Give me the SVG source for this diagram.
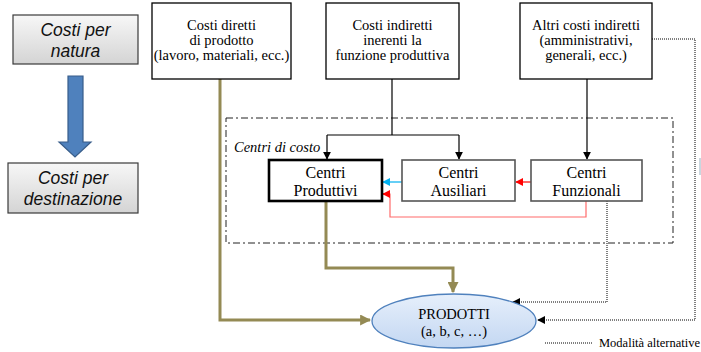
<svg xmlns="http://www.w3.org/2000/svg" width="701" height="352" viewBox="0 0 701 352">
  <defs>
    <linearGradient id="greyFill" x1="0" y1="0" x2="0" y2="1">
      <stop offset="0" stop-color="#f7f7f7"/>
      <stop offset="1" stop-color="#d4d4d4"/>
    </linearGradient>
    <linearGradient id="ovalFill" x1="0" y1="0" x2="0" y2="1">
      <stop offset="0" stop-color="#e6effb"/>
      <stop offset="1" stop-color="#c3d7f2"/>
    </linearGradient>
    <marker id="arrBlack" viewBox="0 0 10 10" refX="9" refY="5" markerWidth="8" markerHeight="8" markerUnits="userSpaceOnUse" orient="auto">
      <path d="M0,0 L10,5 L0,10 z" fill="#000"/>
    </marker>
    <marker id="arrRed" viewBox="0 0 10 10" refX="9" refY="5" markerWidth="8" markerHeight="8" markerUnits="userSpaceOnUse" orient="auto">
      <path d="M0,0 L10,5 L0,10 z" fill="#ff0000"/>
    </marker>
    <marker id="arrBlue" viewBox="0 0 10 10" refX="9" refY="5" markerWidth="8" markerHeight="8" markerUnits="userSpaceOnUse" orient="auto">
      <path d="M0,0 L10,5 L0,10 z" fill="#00b0f0"/>
    </marker>
    <marker id="arrOlive" viewBox="0 0 10 10" refX="9" refY="5" markerWidth="11" markerHeight="11" markerUnits="userSpaceOnUse" orient="auto">
      <path d="M0,0 L10,5 L0,10 z" fill="#948a54"/>
    </marker>
  </defs>
  <style>
    .serif { font-family: "Liberation Serif", "Times New Roman", serif; fill: #000; }
    .sans { font-family: "Liberation Sans", Arial, sans-serif; font-style: italic; fill: #111; }
    .box { fill: #fff; stroke: #000; stroke-width: 1.3; }
    .greybox { fill: url(#greyFill); stroke: #3a3a3a; stroke-width: 1.2; }
    .thin { fill: none; stroke: #000; stroke-width: 1.2; }
    .olive { fill: none; stroke: #948a54; stroke-width: 3; }
    .dotted { fill: none; stroke: #000; stroke-width: 1; stroke-dasharray: 1 1; }
    .src { font-size: 14.5px; text-anchor: middle; }
    .ctr { font-size: 16px; text-anchor: middle; }
  </style>

  <!-- left-hand legend: from nature to destination -->
  <g id="natura">
    <rect class="greybox" x="13" y="15" width="125" height="49"/>
    <text class="sans" font-size="17.5" text-anchor="middle" x="75.5" y="36">Costi per</text>
    <text class="sans" font-size="17.5" text-anchor="middle" x="75.5" y="57">natura</text>
  </g>
  <g id="freccia">
    <path d="M68,76 L83,76 L83,142 L91,142 L75,157 L59,142 L68,142 z" fill="#4f81bd" stroke="#385d8a" stroke-width="1.2"/>
  </g>
  <g id="destinazione">
    <rect class="greybox" x="8" y="163" width="130" height="50"/>
    <text class="sans" font-size="17.5" text-anchor="middle" x="73" y="184">Costi per</text>
    <text class="sans" font-size="17.5" text-anchor="middle" x="73" y="205">destinazione</text>
  </g>

  <!-- cost-centre frame -->
  <g id="centri-di-costo">
    <rect x="226" y="118" width="447" height="125" fill="none" stroke="#222" stroke-width="1" stroke-dasharray="7 3 2 3"/>
    <text class="serif" font-size="14.5" font-style="italic" x="234" y="152">Centri di costo</text>
  </g>

  <!-- connectors -->
  <g id="connectors">
    <!-- direct costs straight to products -->
    <path class="olive" d="M220,79 L220,320 L370,320" marker-end="url(#arrOlive)"/>
    <!-- production centres to products -->
    <path class="olive" d="M326,201 L326,268 L453,268 L453,292" marker-end="url(#arrOlive)"/>
    <!-- indirect production costs to centres -->
    <path class="thin" d="M392,79 L392,135"/>
    <path class="thin" d="M327,135 L459,135"/>
    <path class="thin" d="M327,135 L327,159" marker-end="url(#arrBlack)"/>
    <path class="thin" d="M459,135 L459,159" marker-end="url(#arrBlack)"/>
    <!-- other indirect costs to functional centres -->
    <path class="thin" d="M587,79 L587,159" marker-end="url(#arrBlack)"/>
    <!-- reallocations between centres -->
    <path fill="none" stroke="#00b0f0" stroke-width="1.2" d="M402,182 L383,182" marker-end="url(#arrBlue)"/>
    <path fill="none" stroke="#ff0000" stroke-width="1.2" d="M531,182 L516,182" marker-end="url(#arrRed)"/>
    <path fill="none" stroke="#ff6b6b" stroke-width="1.2" d="M586,201 L586,217 L390,217 L390,194 L383,194"/>
    <path fill="none" stroke="#ff0000" stroke-width="1.2" d="M390,194 L383,194" marker-end="url(#arrRed)"/>
    <!-- alternative routes (dotted) -->
    <path class="dotted" d="M607,201 L607,302 L513,302" marker-end="url(#arrBlack)"/>
    <path class="dotted" d="M652,39 L695,39 L695,320 L538,320" marker-end="url(#arrBlack)"/>
  </g>

  <!-- cost sources -->
  <g id="costi-diretti">
    <rect class="box" x="152" y="3" width="139" height="76"/>
    <text class="serif src" x="221.5" y="30">Costi diretti</text>
    <text class="serif src" x="221.5" y="45">di prodotto</text>
    <text class="serif src" x="221.5" y="60">(lavoro, materiali, ecc.)</text>
  </g>
  <g id="costi-indiretti">
    <rect class="box" x="326" y="3" width="133" height="76"/>
    <text class="serif src" x="392.5" y="30">Costi indiretti</text>
    <text class="serif src" x="392.5" y="45">inerenti la</text>
    <text class="serif src" x="392.5" y="60">funzione produttiva</text>
  </g>
  <g id="altri-costi">
    <rect class="box" x="520" y="3" width="132" height="76"/>
    <text class="serif src" x="586" y="30">Altri costi indiretti</text>
    <text class="serif src" x="586" y="45">(amministrativi,</text>
    <text class="serif src" x="586" y="60">generali, ecc.)</text>
  </g>

  <!-- cost centres -->
  <g id="centri-produttivi">
    <rect x="269" y="160" width="113" height="41" fill="#fff" stroke="#000" stroke-width="2.6"/>
    <text class="serif ctr" x="325.5" y="177.5">Centri</text>
    <text class="serif ctr" x="325.5" y="195.5">Produttivi</text>
  </g>
  <g id="centri-ausiliari">
    <rect x="402" y="160" width="113" height="41" fill="#fff" stroke="#555" stroke-width="1.6"/>
    <text class="serif ctr" x="458.5" y="177.5">Centri</text>
    <text class="serif ctr" x="458.5" y="195.5">Ausiliari</text>
  </g>
  <g id="centri-funzionali">
    <rect x="531" y="160" width="111" height="41" fill="#fff" stroke="#555" stroke-width="1.6"/>
    <text class="serif ctr" x="586.5" y="177.5">Centri</text>
    <text class="serif ctr" x="586.5" y="195.5">Funzionali</text>
  </g>

  <!-- products -->
  <g id="prodotti">
    <ellipse cx="454" cy="321" rx="82" ry="27" fill="url(#ovalFill)" stroke="#4f81bd" stroke-width="1.3"/>
    <text class="serif" font-size="14.5" text-anchor="middle" x="454" y="319">PRODOTTI</text>
    <text class="serif" font-size="14.5" text-anchor="middle" x="454" y="336">(a, b, c, …)</text>
  </g>

  <!-- legend -->
  <g id="legenda">
    <path class="dotted" d="M545,343 L592,343"/>
    <text class="serif" font-size="12.5" x="599" y="347">Modalità alternative</text>
  </g>

  <!-- partial shape at the right border -->
  <rect x="699" y="158" width="2" height="17" fill="#c9d6de"/>
</svg>
